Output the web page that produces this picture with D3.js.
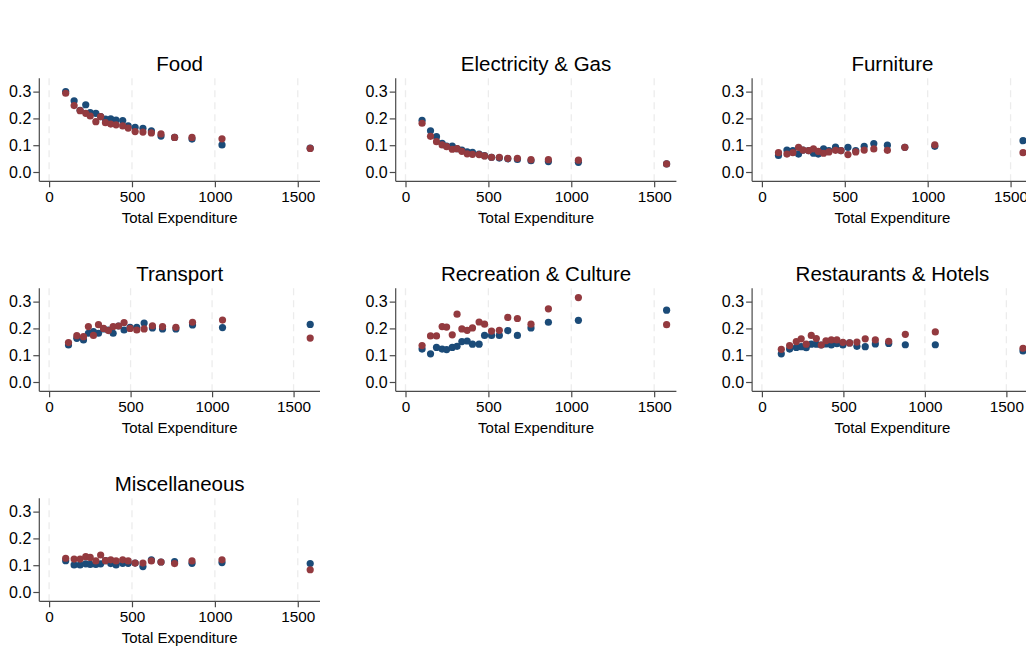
<!DOCTYPE html>
<html>
<head>
<meta charset="utf-8">
<script src="https://cdn.jsdelivr.net/npm/d3@7"></script>
<style>
  html, body { margin: 0; padding: 0; background: #ffffff; }
  svg { display: block; font-family: "Liberation Sans", Arial, Helvetica, sans-serif; }
</style>
</head>
<body>
<svg id="chart" width="1026" height="649"></svg>
<script>
// ---- data ----
const xSetA = [100, 151, 187, 221, 248, 282, 311, 340, 372, 404, 444, 477, 519, 566, 617, 675, 757, 862, 1043, 1575];
const xSetB = [119, 170, 211, 241, 272, 303, 334, 364, 393, 426, 460, 497, 538, 583, 634, 696, 778, 880, 1064, 1602];

const panelTitles = ["Food", "Electricity & Gas", "Furniture", "Transport", "Recreation & Culture", "Restaurants & Hotels", "Miscellaneous"];
const panelXSets = ["A", "A", "A", "B", "A", "B", "A"];

const foodBlue = [0.300, 0.266, 0.230, 0.251, 0.222, 0.219, 0.207, 0.197, 0.198, 0.194, 0.192, 0.172, 0.167, 0.163, 0.154, 0.134, 0.129, 0.123, 0.101, 0.089];
const foodRed  = [0.294, 0.248, 0.229, 0.219, 0.209, 0.188, 0.207, 0.184, 0.179, 0.176, 0.172, 0.164, 0.151, 0.149, 0.146, 0.142, 0.129, 0.129, 0.124, 0.088];

const elecBlue = [0.193, 0.154, 0.132, 0.107, 0.097, 0.097, 0.087, 0.082, 0.075, 0.073, 0.067, 0.061, 0.055, 0.052, 0.049, 0.047, 0.042, 0.039, 0.036, 0.030];
const elecRed  = [0.182, 0.133, 0.113, 0.101, 0.095, 0.085, 0.087, 0.077, 0.068, 0.066, 0.065, 0.060, 0.055, 0.055, 0.051, 0.051, 0.046, 0.046, 0.044, 0.030];

const furnBlue = [0.062, 0.082, 0.080, 0.067, 0.082, 0.080, 0.070, 0.067, 0.086, 0.080, 0.093, 0.080, 0.092, 0.080, 0.096, 0.106, 0.100, 0.092, 0.096, 0.117];
const furnRed  = [0.072, 0.067, 0.072, 0.092, 0.082, 0.080, 0.086, 0.077, 0.070, 0.075, 0.081, 0.080, 0.065, 0.075, 0.082, 0.086, 0.081, 0.092, 0.101, 0.072];

const tranBlue = [0.138, 0.163, 0.157, 0.182, 0.188, 0.182, 0.198, 0.194, 0.182, 0.209, 0.194, 0.204, 0.204, 0.220, 0.202, 0.198, 0.198, 0.213, 0.203, 0.215];
const tranRed  = [0.147, 0.173, 0.169, 0.207, 0.174, 0.214, 0.200, 0.192, 0.207, 0.209, 0.222, 0.200, 0.194, 0.198, 0.210, 0.207, 0.204, 0.223, 0.231, 0.164];

const recBlue = [0.123, 0.105, 0.129, 0.123, 0.121, 0.129, 0.133, 0.151, 0.153, 0.141, 0.141, 0.174, 0.174, 0.174, 0.192, 0.174, 0.202, 0.223, 0.230, 0.268];
const recRed  = [0.136, 0.172, 0.172, 0.207, 0.205, 0.176, 0.253, 0.198, 0.193, 0.202, 0.224, 0.216, 0.190, 0.193, 0.241, 0.237, 0.216, 0.273, 0.315, 0.214];

const restBlue = [0.105, 0.123, 0.129, 0.132, 0.128, 0.141, 0.141, 0.138, 0.142, 0.138, 0.143, 0.138, 0.146, 0.133, 0.132, 0.142, 0.144, 0.139, 0.139, 0.116];
const restRed  = [0.122, 0.136, 0.151, 0.161, 0.141, 0.174, 0.162, 0.138, 0.154, 0.157, 0.157, 0.148, 0.146, 0.149, 0.161, 0.157, 0.152, 0.178, 0.187, 0.126];

const miscBlue = [0.117, 0.101, 0.101, 0.105, 0.103, 0.103, 0.105, 0.117, 0.106, 0.101, 0.107, 0.107, 0.108, 0.095, 0.120, 0.112, 0.113, 0.107, 0.110, 0.106];
const miscRed  = [0.126, 0.123, 0.123, 0.132, 0.129, 0.116, 0.138, 0.117, 0.120, 0.116, 0.120, 0.116, 0.108, 0.108, 0.116, 0.112, 0.106, 0.116, 0.120, 0.083];

const xTicks = [0, 500, 1000, 1500];
const yTicks = [0, 0.1, 0.2, 0.3];
const xAxisTitle = "Total Expenditure";

// ---- build ----
const blueSeries = [foodBlue, elecBlue, furnBlue, tranBlue, recBlue, restBlue, miscBlue];
const redSeries  = [foodRed, elecRed, furnRed, tranRed, recRed, restRed, miscRed];
const xSets = { A: xSetA, B: xSetB };

const COLOR_BLUE = "#1b4b78";
const COLOR_RED  = "#933a3f";

const svg = d3.select("#chart");

const yMax = d3.max([...blueSeries, ...redSeries].flat());

const PLOT_W = 280.7, PLOT_H = 103;
const COL_STEP = 356.4, ROW_STEP = 210;
const X0 = 39.3, Y0 = 78.3;
const MX = 9.8, MY = 9.3;

panelTitles.forEach((title, i) => {
  const col = i % 3, row = Math.floor(i / 3);
  const left = X0 + col * COL_STEP;
  const top = Y0 + row * ROW_STEP;
  const xs = xSets[panelXSets[i]];

  const x = d3.scaleLinear().domain([0, d3.max(xs)]).range([left + MX, left + PLOT_W - MX]);
  const y = d3.scaleLinear().domain([0, yMax]).range([top + PLOT_H - MY, top + MY]);

  const g = svg.append("g");

  // gridlines
  g.selectAll("line.grid").data(xTicks).join("line")
    .attr("class", "grid")
    .attr("x1", d => x(d)).attr("x2", d => x(d))
    .attr("y1", top).attr("y2", top + PLOT_H)
    .attr("stroke", "#ececec").attr("stroke-width", 1.3)
    .attr("stroke-dasharray", "7,5");

  // x axis
  const xAxis = d3.axisBottom(x).tickValues(xTicks).tickFormat(d3.format("d")).tickSizeInner(6).tickSizeOuter(0).tickPadding(4);
  const gx = g.append("g").attr("transform", `translate(0,${top + PLOT_H})`).call(xAxis);
  gx.attr("font-family", null);
  gx.select(".domain").attr("d", `M${left},0H${left + PLOT_W}`).attr("stroke", "#4a4a4a").attr("stroke-width", 1.2);
  gx.selectAll(".tick line").attr("stroke", "#4a4a4a").attr("stroke-width", 1.2);
  gx.selectAll(".tick text").attr("font-size", "15.3px").attr("fill", "#000");

  // y axis
  const yAxis = d3.axisLeft(y).tickValues(yTicks).tickFormat(d3.format(".1f")).tickSizeInner(6).tickSizeOuter(0).tickPadding(2);
  const gy = g.append("g").attr("transform", `translate(${left},0)`).call(yAxis);
  gy.attr("font-family", null);
  gy.select(".domain").attr("d", `M0,${top}V${top + PLOT_H}`).attr("stroke", "#4a4a4a").attr("stroke-width", 1.2);
  gy.selectAll(".tick line").attr("stroke", "#4a4a4a").attr("stroke-width", 1.2);
  gy.selectAll(".tick text").attr("font-size", "16px").attr("fill", "#000");

  // axis title
  g.append("text")
    .attr("x", left + PLOT_W / 2).attr("y", top + PLOT_H + 42)
    .attr("text-anchor", "middle").attr("font-size", "15px").attr("fill", "#000")
    .text(xAxisTitle);

  // panel title
  g.append("text")
    .attr("x", left + PLOT_W / 2).attr("y", top - 7.6)
    .attr("text-anchor", "middle").attr("font-size", "20.5px").attr("fill", "#000")
    .text(title);

  // points
  const blue = xs.map((xv, k) => ({ x: xv, y: blueSeries[i][k] }));
  const red = xs.map((xv, k) => ({ x: xv, y: redSeries[i][k] }));
  g.selectAll("circle.b").data(blue).join("circle").attr("class", "b")
    .attr("cx", d => x(d.x)).attr("cy", d => y(d.y)).attr("r", 3.6).attr("fill", COLOR_BLUE);
  g.selectAll("circle.r").data(red).join("circle").attr("class", "r")
    .attr("cx", d => x(d.x)).attr("cy", d => y(d.y)).attr("r", 3.6).attr("fill", COLOR_RED);
});
</script>
</body>
</html>
